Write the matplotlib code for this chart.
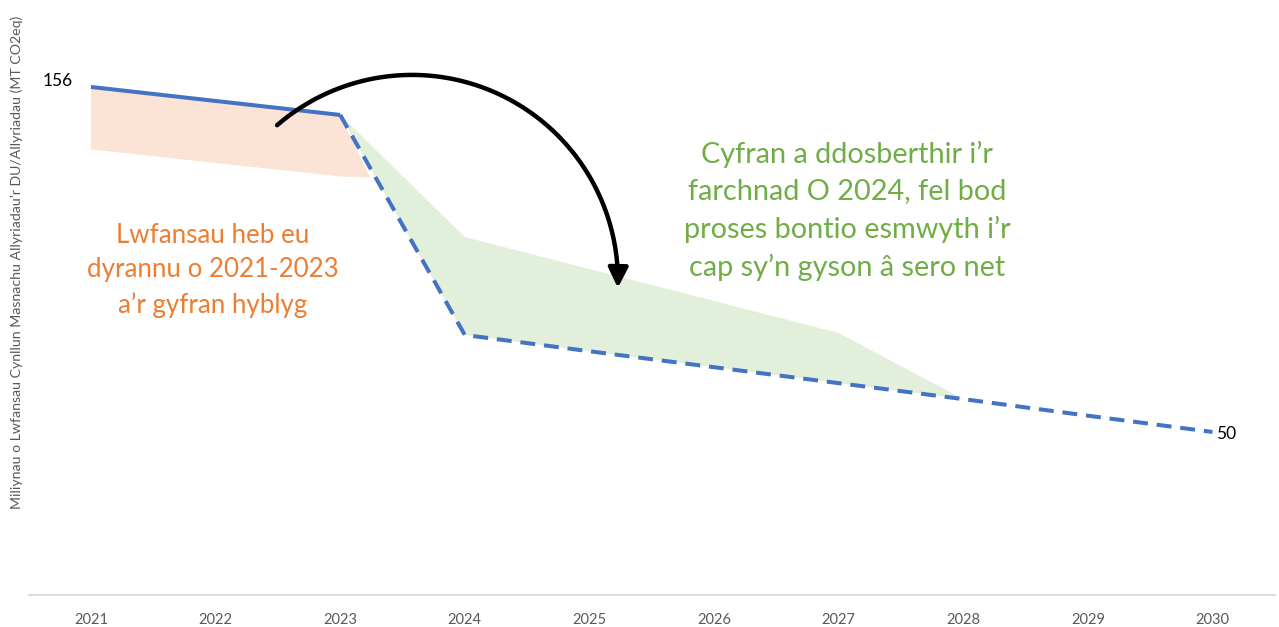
import matplotlib.pyplot as plt
import numpy as np
from matplotlib.path import Path
from matplotlib.patches import FancyArrowPatch

plt.rcParams['font.family'] = ['Lato', 'DejaVu Sans']

# data
years = [2021, 2022, 2023, 2024, 2025, 2026, 2027, 2028, 2029, 2030]
solid_years = [2021, 2023]
solid_vals = [156, 147.4]
dash_years = [2023, 2024, 2025, 2026, 2027, 2028, 2029, 2030]
dash_vals = [147.4, 79.8, 74.8, 69.9, 65.0, 60.1, 55.0, 50.0]

# unallocated allowances (orange band) lower edge
orange_low_x = [2023.24, 2023, 2021]
orange_low_y = [128.2, 128.5, 136.8]

# share released to market (green band) upper edge
green_top_x = [2023, 2024, 2027, 2028]
green_top_y = [147.4, 109.9, 80.4, 60.1]

blue = '#4472C4'
orange = '#ED7D31'
green = '#70AD47'
grey = '#595959'

fig = plt.figure(figsize=(12.79, 6.27), dpi=100)
ax = fig.add_axes([0.0224, 0.0515, 0.9743, 0.9344])

# shaded areas
ox = solid_years + orange_low_x
oy = solid_vals + orange_low_y
ax.fill(ox, oy, color='#FBE3D6', lw=0, zorder=1)

bot_x = [x for x in dash_years if x <= green_top_x[-1]]
bot_y = dash_vals[:len(bot_x)]
gx = green_top_x + bot_x[::-1]
gy = green_top_y + bot_y[::-1]
ax.fill(gx, gy, color='#E2EFDA', lw=0, zorder=1)

# lines
ax.plot(solid_years, solid_vals, color=blue, lw=2.9, solid_capstyle='butt', zorder=3)
ax.plot(dash_years, dash_vals, color=blue, lw=2.9, dashes=(3.7, 2.2), zorder=3)

ax.text(2020.73, 157.8, '156', fontsize=12.5, ha='center', va='center', color='black')
ax.text(2030.03, 49.3, '50', fontsize=12.5, ha='left', va='center', color='black')

# curved arrow
cx, cy = 2023.576, 96.4
rx, ry = 1.653, 63.3
t = np.radians(np.linspace(130.9, -1.9, 80))
pts = np.column_stack([cx + rx * np.cos(t), cy + ry * np.sin(t)])
arc = Path(pts)
arrow = FancyArrowPatch(path=arc, arrowstyle='-|>', mutation_scale=30,
                        color='black', lw=3.2, zorder=4)
ax.add_patch(arrow)

ax.text(2021.98, 99.6, 'Lwfansau heb eu\ndyrannu o 2021-2023\na’r gyfran hyblyg',
        ha='center', va='center', color=orange, fontsize=18.6, linespacing=1.47)
ax.text(2027.07, 117.9, 'Cyfran a ddosberthir i’r\nfarchnad O 2024, fel bod\nproses bontio esmwyth i’r\ncap sy’n gyson â sero net',
        ha='center', va='center', color=green, fontsize=20.8, linespacing=1.5)

ax.set_xlim(2020.5, 2030.5)
ax.set_ylim(0, 180)
ax.set_xticks(years)
ax.set_xticklabels([str(y) for y in years])
ax.tick_params(axis='x', length=0, pad=13, labelsize=10.5, labelcolor=grey)
ax.set_yticks([])
for s in ['top', 'right', 'left']:
    ax.spines[s].set_visible(False)
ax.spines['bottom'].set_color('#D9D9D9')
ax.spines['bottom'].set_linewidth(1.3)

fig.text(0.0133, 0.582, 'Miliynau o Lwfansau Cynllun Masnachu Allyriadau’r DU/Allyriadau (MT CO2eq)',
         rotation=90, ha='center', va='center', fontsize=10.2, color=grey)

fig.savefig('out.png', dpi=100)
